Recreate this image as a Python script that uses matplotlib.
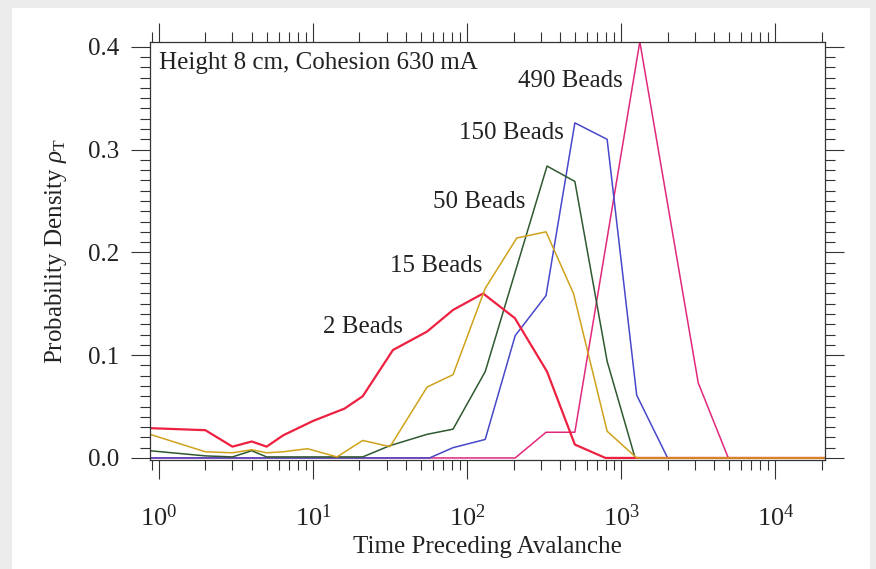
import numpy as np
import matplotlib
matplotlib.use("Agg")
import matplotlib.pyplot as plt
from matplotlib.patches import Rectangle
from matplotlib.ticker import MultipleLocator, LogLocator, NullFormatter

plt.rcParams['font.family'] = ['Liberation Serif', 'DejaVu Serif']
plt.rcParams['mathtext.fontset'] = 'custom'
plt.rcParams['mathtext.rm'] = 'Liberation Serif'
plt.rcParams['mathtext.it'] = 'Liberation Serif:italic'

# time values and densities for each bead count
t_2 = [0.874, 2, 3, 4, 5, 6.4, 10, 16, 21, 33, 55, 81, 127, 204, 330, 500, 790,
       1260, 2000, 5000, 22000]
rho_2 = [0.029, 0.027, 0.011, 0.016, 0.011, 0.022, 0.036, 0.048, 0.060, 0.105,
         0.123, 0.144, 0.160, 0.136, 0.084, 0.013, 0.0, 0.0, 0.0, 0.0, 0.0]

t_15 = [0.874, 2, 3, 4, 5, 6.4, 9.2, 14.3, 21, 31.6, 55, 81, 131, 210, 325, 490,
        810, 1260, 2000, 5000, 22000]
rho_15 = [0.023, 0.006, 0.005, 0.008, 0.005, 0.006, 0.009, 0.001, 0.017, 0.011,
          0.069, 0.081, 0.165, 0.214, 0.220, 0.160, 0.026, 0.0, 0.0, 0.0, 0.0]

t_50 = [0.874, 2, 3, 4, 5, 21, 31.6, 55, 81, 131, 330, 500, 810, 1230, 5000, 22000]
rho_50 = [0.007, 0.002, 0.001, 0.007, 0.001, 0.001, 0.012, 0.023, 0.028, 0.084,
          0.284, 0.269, 0.094, 0.0, 0.0, 0.0]

t_150 = [0.874, 5, 20, 57, 81, 131, 205, 325, 500, 810, 1260, 2000, 5000, 22000]
rho_150 = [0.0, 0.0, 0.0, 0.0, 0.010, 0.018, 0.119, 0.158, 0.326, 0.310, 0.061,
           0.0, 0.0, 0.0]

t_490 = [0.874, 10, 100, 205, 325, 500, 1320, 3160, 4950, 22000]
rho_490 = [0.0, 0.0, 0.0, 0.0, 0.025, 0.025, 0.405, 0.073, 0.0, 0.0]

labels = ["2 Beads", "15 Beads", "50 Beads", "150 Beads", "490 Beads"]
label_t = [21, 63, 120, 193, 467]
label_rho = [0.127, 0.187, 0.249, 0.316, 0.367]

fig = plt.figure(figsize=(8.76, 5.69), dpi=100)
fig.patch.set_facecolor('#ececec')
fig.add_artist(Rectangle((12/876, 0), (870-12)/876, (569-8)/569,
                         transform=fig.transFigure, facecolor='white',
                         edgecolor='none', zorder=-5))

ax = fig.add_axes([150/876, (569-460)/569, 675/876, 418/569])
ax.set_facecolor('white')

ax.plot(t_490, rho_490, color='#e2287c', lw=1.1)
ax.plot(t_150, rho_150, color='#4848c8', lw=1.1)
ax.plot(t_50, rho_50, color='#2f5a30', lw=1.1)
ax.plot(t_2, rho_2, color='#ee2040', lw=1.6)
ax.plot(t_15, rho_15, color='#cfa21c', lw=1.1)

ax.set_xscale('log')
ax.set_xlim(0.875, 2.1e4)
ax.set_ylim(-0.002, 0.4047)

ax.xaxis.set_major_locator(LogLocator(base=10, numticks=10))
ax.xaxis.set_minor_locator(LogLocator(base=10, subs=np.arange(2, 10), numticks=20))
ax.xaxis.set_minor_formatter(NullFormatter())
ax.yaxis.set_major_locator(MultipleLocator(0.1))
ax.yaxis.set_minor_locator(MultipleLocator(0.01))
ax.set_yticks([0.0, 0.1, 0.2, 0.3, 0.4])
ax.set_yticklabels(['0.0', '0.1', '0.2', '0.3', '0.4'])

ax.tick_params(which='both', direction='out', top=True, right=True,
               width=0.8, color='#333333', labelsize=18, labelcolor='#222222')
ax.tick_params(which='major', length=14)
ax.tick_params(which='minor', length=7)
ax.tick_params(axis='x', which='major', pad=18, labelsize=19)
ax.tick_params(axis='y', which='major', pad=8)
for sp in ax.spines.values():
    sp.set_linewidth(0.9)
    sp.set_color('#333333')

ax.set_xlabel('Time Preceding Avalanche', fontsize=18, color='#222222', labelpad=4)
ax.set_ylabel(r'Probability Density $\rho_{\mathrm{T}}$', fontsize=18,
              color='#222222', labelpad=14)

ax.text(0.013, 0.935, 'Height 8 cm, Cohesion 630 mA', transform=ax.transAxes,
        fontsize=18, color='#222222', va='baseline', ha='left')
for lab, lt, lr in zip(labels, label_t, label_rho):
    ax.text(lt, lr, lab, fontsize=18, color='#222222', ha='center', va='center')

fig.savefig('out.png', dpi=100)
